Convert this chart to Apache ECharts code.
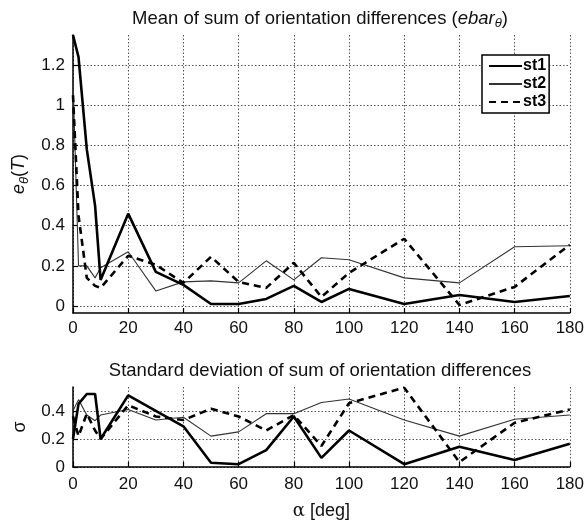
<!DOCTYPE html>
<html><head><meta charset="utf-8">
<script src="https://cdn.jsdelivr.net/npm/echarts@6/dist/echarts.min.js"></script>
<style>html,body{margin:0;padding:0;background:#fff}#c{width:587px;height:521px}</style>
</head><body><div id="c"></div>
<script>
const alpha = [0, 2, 5, 8, 10, 20, 30, 40, 50, 60, 70, 80, 90, 100, 120, 140, 160, 180];
const meanSt1 = [1.35, 1.24, 0.78, 0.5, 0.13, 0.46, 0.17, 0.105, 0.01, 0.01, 0.035, 0.10, 0.02, 0.085, 0.01, 0.055, 0.02, 0.05];
const meanSt2 = [1.13, 0.2, 0.2, 0.14, 0.19, 0.27, 0.075, 0.12, 0.125, 0.115, 0.225, 0.13, 0.24, 0.23, 0.14, 0.115, 0.295, 0.30];
const meanSt3 = [1.05, 0.45, 0.14, 0.1, 0.09, 0.25, 0.205, 0.115, 0.245, 0.12, 0.09, 0.215, 0.045, 0.165, 0.335, 0.005, 0.095, 0.305];
const sdSt1 = [0.2, 0.45, 0.52, 0.52, 0.2, 0.51, 0.40, 0.29, 0.03, 0.02, 0.12, 0.36, 0.065, 0.26, 0.02, 0.145, 0.05, 0.165];
const sdSt2 = [0.40, 0.48, 0.37, 0.33, 0.37, 0.41, 0.335, 0.355, 0.22, 0.25, 0.38, 0.38, 0.46, 0.485, 0.335, 0.22, 0.34, 0.37];
const sdSt3 = [0.36, 0.22, 0.38, 0.26, 0.2, 0.44, 0.36, 0.335, 0.415, 0.36, 0.26, 0.37, 0.15, 0.455, 0.565, 0.035, 0.315, 0.41];
const meanTicks = [0, 0.2, 0.4, 0.6, 0.8, 1, 1.2];
const sdTicks = [0, 0.2, 0.4];
const xTicks = [0, 20, 40, 60, 80, 100, 120, 140, 160, 180];
const seriesNames = ['st1', 'st2', 'st3'];

const pair = ys => alpha.map((a, i) => [a, ys[i]]);
const FONT = '"Liberation Sans", Arial, sans-serif';
const LBL = 17;
const styles = [
  {color: '#000', width: 2.6, type: 'solid'},
  {color: '#333', width: 1.1, type: 'solid'},
  {color: '#000', width: 2.6, type: [7, 5]}
];
function mk(name, ys, idx, s) {
  return {name: name, type: 'line', xAxisIndex: idx, yAxisIndex: idx, data: pair(ys),
    symbol: 'none', animation: false, z: s === 1 ? 3 : 4,
    itemStyle: {color: styles[s].color},
    lineStyle: {color: styles[s].color, width: styles[s].width, type: styles[s].type}};
}
const gridLine = {show: true, lineStyle: {color: '#555', width: 1, type: [1.5, 2]}};
function xAx(idx, margin) {
  return {type: 'value', gridIndex: idx, min: 0, max: 180, interval: 20,
    axisLine: {onZero: false, lineStyle: {color: '#000', width: 1.5}},
    axisTick: {inside: true, length: 5, customValues: xTicks, lineStyle: {color: '#000', width: 1.2}},
    axisLabel: {color: '#111', fontSize: LBL, fontFamily: FONT, margin: margin},
    splitLine: gridLine};
}
const chart = echarts.init(document.getElementById('c'), null, {renderer: 'canvas'});
chart.setOption({
  backgroundColor: '#fff',
  animation: false,
  title: [
    {text: 'Mean of sum of orientation differences ({it|ebar}{sub|θ})', left: 315, top: 2, textAlign: 'center',
     textStyle: {color: '#111', fontSize: 18.5, fontWeight: 'normal', fontFamily: FONT,
       rich: {it: {fontStyle: 'italic', fontSize: 18.5, fontFamily: FONT, color: '#111'},
              sub: {fontStyle: 'italic', fontSize: 13, fontFamily: FONT, color: '#111', padding: [10, 0, 0, 0]}}}},
    {text: 'Standard deviation of sum of orientation differences', left: 315, top: 356, textAlign: 'center',
     textStyle: {color: '#111', fontSize: 18.5, fontWeight: 'normal', fontFamily: FONT}}
  ],
  legend: {data: seriesNames, left: 482, top: 55, orient: 'vertical', itemWidth: 33, itemHeight: 12,
    itemGap: 2, padding: [3, 3, 3, 6], borderColor: '#000', borderWidth: 1.5, backgroundColor: '#fff',
    itemStyle: {opacity: 0},
    textStyle: {color: '#000', fontSize: 16, fontWeight: 'bold', fontFamily: FONT, padding: [0, 0, 0, -4]}},
  grid: [
    {left: 73, right: 16, top: 35, height: 278},
    {left: 73, right: 16, top: 387, height: 80}
  ],
  xAxis: [
    xAx(0, 7),
    Object.assign(xAx(1, 9), {name: '{a|α} [deg]', nameLocation: 'middle', nameGap: 35,
      nameTextStyle: {color: '#111', fontSize: 18, fontFamily: FONT, rich: {a: {fontSize: 18, fontFamily: 'DejaVu Serif', color: '#111'}}}})
  ],
  yAxis: [
    {type: 'value', gridIndex: 0, min: -0.035, max: 1.35,
     name: '{i|e}{s|θ}({i|T})', nameLocation: 'middle', nameGap: 40, nameRotate: 90,
     nameTextStyle: {color: '#111', fontSize: 18, fontFamily: FONT,
       rich: {i: {fontStyle: 'italic', fontSize: 18, fontFamily: FONT, color: '#111'},
              s: {fontStyle: 'italic', fontSize: 13, fontFamily: FONT, color: '#111', padding: [10, 0, 0, 0]}}},
     axisLine: {show: true, onZero: false, lineStyle: {color: '#000', width: 1.5}},
     axisTick: {show: true, inside: true, length: 5, customValues: meanTicks, lineStyle: {color: '#000', width: 1.2}},
     axisLabel: {color: '#111', fontSize: LBL, fontFamily: FONT, margin: 8, customValues: meanTicks,
       formatter: v => String(Math.round(v * 10) / 10)},
     splitLine: gridLine},
    {type: 'value', gridIndex: 1, min: 0, max: 0.57,
     name: 'σ', nameLocation: 'middle', nameGap: 44, nameRotate: 90,
     nameTextStyle: {color: '#111', fontSize: 18, fontFamily: FONT},
     axisLine: {show: true, onZero: false, lineStyle: {color: '#000', width: 1.5}},
     axisTick: {show: true, inside: true, length: 5, customValues: sdTicks, lineStyle: {color: '#000', width: 1.2}},
     axisLabel: {color: '#111', fontSize: LBL, fontFamily: FONT, margin: 8, customValues: sdTicks,
       formatter: v => String(Math.round(v * 10) / 10)},
     splitLine: gridLine}
  ],
  series: [
    mk('st1', meanSt1, 0, 0), mk('st2', meanSt2, 0, 1), mk('st3', meanSt3, 0, 2),
    mk('st1', sdSt1, 1, 0), mk('st2', sdSt2, 1, 1), mk('st3', sdSt3, 1, 2)
  ]
});
</script></body></html>
